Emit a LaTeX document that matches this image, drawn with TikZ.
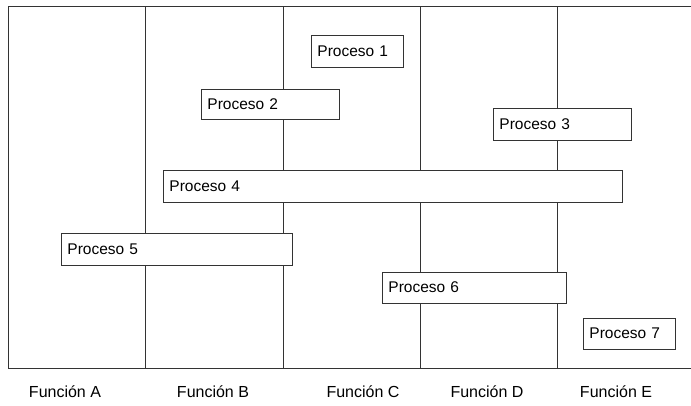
\documentclass[tikz,border=0pt]{standalone}
\usepackage{fontspec}
\setmainfont{Liberation Sans}
\newcommand{\uplift}[1]{\raisebox{1.5pt}{#1}}
\begin{document}
\begin{tikzpicture}[x=1pt,y=-1pt,
  frameline/.style={draw=black!80, line width=0.9pt},
  procbox/.style={draw=black!80, line width=0.9pt, fill=white, rectangle, anchor=north west,
    inner xsep=6pt, inner ysep=0pt, align=left, font=\fontsize{15.5}{17}\selectfont, text=black},
  funlabel/.style={font=\fontsize{16}{18}\selectfont, text=black}]
\useasboundingbox (0,0) rectangle (691,405);
% frame
\draw[frameline] (691,6) -- (8,6) -- (8,368) -- (691,368);
\foreach \x in {145,283,420,557} \draw[frameline] (\x,6) -- (\x,368);
% process boxes
\node[procbox, text width=80pt, minimum height=32pt] (p1) at (311,35) {\uplift{Proceso 1}};
\node[procbox, text width=126pt, minimum height=30pt] (p2) at (201,89) {\uplift{Proceso 2}};
\node[procbox, text width=126pt, minimum height=32pt] (p3) at (493,108) {\uplift{Proceso 3}};
\node[procbox, text width=447pt, minimum height=32pt] (p4) at (163,170) {\uplift{Proceso 4}};
\node[procbox, text width=219pt, minimum height=32pt] (p5) at (61,233) {\uplift{Proceso 5}};
\node[procbox, text width=172pt, minimum height=31pt] (p6) at (382,272) {\uplift{Proceso 6}};
\node[procbox, text width=80pt, minimum height=31pt] (p7) at (583,318) {\uplift{Proceso 7}};
% function labels
\node[funlabel] (fa) at (65,392) {Función A};
\node[funlabel] (fb) at (213,392) {Función B};
\node[funlabel] (fc) at (363,392) {Función C};
\node[funlabel] (fd) at (487,392) {Función D};
\node[funlabel] (fe) at (616,392) {Función E};
\end{tikzpicture}
\end{document}
